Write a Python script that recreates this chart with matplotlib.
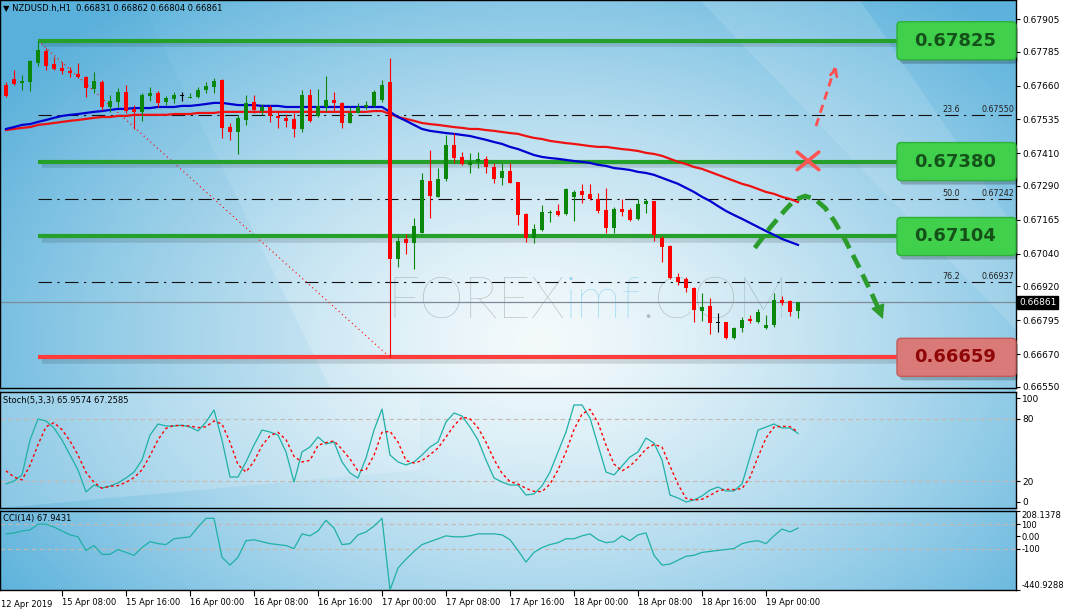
import numpy as np
import matplotlib
matplotlib.use("Agg")
import matplotlib.pyplot as plt
import matplotlib.transforms as mtransforms
from matplotlib.patches import FancyBboxPatch

W, H = 1066, 612

# ---- DATA (NZDUSD H1) ----
# bar slot index, 0 = 17 Apr 00:00
bar_pos = list(range(-47, 53))

opens = [0.67662, 0.67684, 0.67669, 0.67673, 0.67743, 0.67787, 0.67739, 0.67725, 0.67714, 0.67703,
         0.67692, 0.67647, 0.67673, 0.67581, 0.67599, 0.67636, 0.67574, 0.67563, 0.67622, 0.67633,
         0.67599, 0.67611, 0.67622, 0.67614, 0.67618, 0.67644, 0.67655, 0.67680, 0.67507, 0.67489,
         0.67533, 0.67599, 0.67566, 0.67581, 0.67548, 0.67541, 0.67537, 0.67500, 0.67625, 0.67548,
         0.67581, 0.67607, 0.67596, 0.67522, 0.67559, 0.67581, 0.67585, 0.67607,
         0.67673, 0.67021, 0.67095, 0.67080, 0.67117, 0.67309, 0.67250, 0.67316, 0.67441, 0.67397,
         0.67368, 0.67379, 0.67390, 0.67360, 0.67320, 0.67345, 0.67305, 0.67187, 0.67099, 0.67128,
         0.67192, 0.67198, 0.67187, 0.67250, 0.67272, 0.67261, 0.67242, 0.67202, 0.67136, 0.67205,
         0.67202, 0.67169, 0.67224, 0.67235, 0.67099, 0.67069, 0.66955, 0.66948, 0.66915, 0.66830,
         0.66848, 0.66786, 0.66789, 0.66731, 0.66767, 0.66800, 0.66789, 0.66767, 0.66778, 0.66870,
         0.66867, 0.66831]
highs = [0.67673, 0.67717, 0.67699, 0.67754, 0.67825, 0.67798, 0.67765, 0.67747, 0.67728, 0.67743,
         0.67695, 0.67710, 0.67680, 0.67625, 0.67651, 0.67662, 0.67588, 0.67633, 0.67655, 0.67640,
         0.67622, 0.67636, 0.67636, 0.67633, 0.67655, 0.67673, 0.67688, 0.67684, 0.67522, 0.67552,
         0.67625, 0.67625, 0.67592, 0.67588, 0.67563, 0.67555, 0.67559, 0.67644, 0.67647, 0.67647,
         0.67695, 0.67636, 0.67599, 0.67581, 0.67596, 0.67603, 0.67644, 0.67680,
         0.67761, 0.67106, 0.67113, 0.67172, 0.67338, 0.67423, 0.67356, 0.67478, 0.67485, 0.67415,
         0.67412, 0.67415, 0.67401, 0.67375, 0.67375, 0.67375, 0.67305, 0.67191, 0.67150, 0.67220,
         0.67202, 0.67224, 0.67283, 0.67275, 0.67298, 0.67298, 0.67264, 0.67283, 0.67213, 0.67242,
         0.67209, 0.67242, 0.67242, 0.67235, 0.67106, 0.67073, 0.66970, 0.66955, 0.66918, 0.66896,
         0.66878, 0.66823, 0.66789, 0.66771, 0.66808, 0.66815, 0.66837, 0.66815, 0.66896, 0.66885,
         0.66870, 0.66862]
lows = [0.67618, 0.67662, 0.67644, 0.67640, 0.67732, 0.67717, 0.67717, 0.67703, 0.67692, 0.67688,
        0.67618, 0.67633, 0.67570, 0.67563, 0.67581, 0.67559, 0.67500, 0.67530, 0.67603, 0.67581,
        0.67588, 0.67596, 0.67603, 0.67614, 0.67614, 0.67633, 0.67633, 0.67467, 0.67460, 0.67408,
        0.67515, 0.67559, 0.67552, 0.67526, 0.67504, 0.67507, 0.67471, 0.67489, 0.67526, 0.67544,
        0.67563, 0.67563, 0.67504, 0.67522, 0.67559, 0.67574, 0.67581, 0.67599,
        0.66659, 0.66992, 0.67040, 0.66985, 0.67117, 0.67172, 0.67250, 0.67309, 0.67375, 0.67368,
        0.67338, 0.67356, 0.67338, 0.67301, 0.67294, 0.67301, 0.67147, 0.67084, 0.67080, 0.67124,
        0.67158, 0.67180, 0.67183, 0.67161, 0.67228, 0.67239, 0.67190, 0.67117, 0.67117, 0.67180,
        0.67161, 0.67165, 0.67190, 0.67088, 0.67010, 0.66948, 0.66926, 0.66900, 0.66789, 0.66793,
        0.66745, 0.66753, 0.66727, 0.66727, 0.66753, 0.66786, 0.66786, 0.66764, 0.66771, 0.66852,
        0.66811, 0.66804]
closes = [0.67622, 0.67666, 0.67677, 0.67750, 0.67791, 0.67732, 0.67721, 0.67714, 0.67706, 0.67692,
          0.67651, 0.67677, 0.67581, 0.67603, 0.67636, 0.67566, 0.67563, 0.67625, 0.67633, 0.67596,
          0.67614, 0.67625, 0.67622, 0.67618, 0.67644, 0.67658, 0.67677, 0.67504, 0.67489, 0.67541,
          0.67596, 0.67570, 0.67581, 0.67548, 0.67541, 0.67530, 0.67500, 0.67625, 0.67530, 0.67585,
          0.67607, 0.67596, 0.67522, 0.67559, 0.67581, 0.67588, 0.67636, 0.67662,
          0.67021, 0.67088, 0.67080, 0.67143, 0.67312, 0.67253, 0.67316, 0.67441, 0.67393, 0.67371,
          0.67379, 0.67390, 0.67360, 0.67316, 0.67345, 0.67301, 0.67183, 0.67099, 0.67132, 0.67194,
          0.67194, 0.67183, 0.67279, 0.67268, 0.67257, 0.67242, 0.67198, 0.67136, 0.67205, 0.67194,
          0.67165, 0.67224, 0.67235, 0.67110, 0.67066, 0.66951, 0.66937, 0.66915, 0.66834, 0.66845,
          0.66786, 0.66786, 0.66731, 0.66767, 0.66797, 0.66793, 0.66826, 0.66778, 0.66870, 0.66859,
          0.66826, 0.66861]

ma_fast = [0.67500, 0.67507, 0.67515, 0.67518, 0.67526, 0.67533, 0.67541, 0.67548, 0.67552, 0.67555,
           0.67559, 0.67563, 0.67566, 0.67570, 0.67574, 0.67574, 0.67577, 0.67577, 0.67577, 0.67581,
           0.67581, 0.67581, 0.67585, 0.67585, 0.67588, 0.67592, 0.67596, 0.67596, 0.67592, 0.67588,
           0.67588, 0.67588, 0.67585, 0.67585, 0.67585, 0.67581, 0.67581, 0.67581, 0.67581, 0.67581,
           0.67581, 0.67581, 0.67581, 0.67581, 0.67581, 0.67581, 0.67581, 0.67581,
           0.67563, 0.67544, 0.67530, 0.67515, 0.67500, 0.67493, 0.67489, 0.67485, 0.67482, 0.67478,
           0.67474, 0.67467, 0.67460, 0.67452, 0.67445, 0.67434, 0.67426, 0.67415, 0.67404, 0.67397,
           0.67393, 0.67390, 0.67386, 0.67382, 0.67379, 0.67375, 0.67368, 0.67364, 0.67356, 0.67353,
           0.67349, 0.67342, 0.67338, 0.67331, 0.67320, 0.67309, 0.67298, 0.67283, 0.67268, 0.67250,
           0.67235, 0.67216, 0.67198, 0.67183, 0.67169, 0.67154, 0.67139, 0.67124, 0.67110, 0.67095,
           0.67084, 0.67073]
ma_slow = [0.67496, 0.67500, 0.67504, 0.67507, 0.67515, 0.67518, 0.67522, 0.67526, 0.67530, 0.67533,
           0.67537, 0.67541, 0.67544, 0.67544, 0.67548, 0.67548, 0.67552, 0.67552, 0.67552, 0.67552,
           0.67552, 0.67555, 0.67555, 0.67555, 0.67559, 0.67559, 0.67559, 0.67563, 0.67563, 0.67563,
           0.67563, 0.67563, 0.67563, 0.67563, 0.67563, 0.67563, 0.67563, 0.67563, 0.67563, 0.67563,
           0.67563, 0.67563, 0.67563, 0.67563, 0.67563, 0.67563, 0.67566, 0.67566,
           0.67555, 0.67544, 0.67537, 0.67530, 0.67522, 0.67518, 0.67515, 0.67511, 0.67507, 0.67504,
           0.67500, 0.67500, 0.67496, 0.67493, 0.67489, 0.67485, 0.67482, 0.67474, 0.67467, 0.67463,
           0.67456, 0.67452, 0.67448, 0.67445, 0.67441, 0.67437, 0.67434, 0.67434, 0.67430, 0.67426,
           0.67423, 0.67419, 0.67412, 0.67408, 0.67401, 0.67390, 0.67379, 0.67371, 0.67360, 0.67353,
           0.67342, 0.67331, 0.67320, 0.67309, 0.67298, 0.67290, 0.67279, 0.67268, 0.67261, 0.67250,
           0.67242, 0.67231]

stoch_main = [17.3, 20.2, 26.0, 59.6, 79.8, 77.9, 71.2, 59.6, 45.2, 30.8,
              9.6, 16.3, 13.5, 15.4, 18.3, 23.1, 28.8, 40.4, 64.4, 75.0,
              73.1, 73.1, 74.0, 72.1, 68.3, 76.9, 88.5, 59.6, 24.0, 24.0,
              38.5, 54.8, 69.2, 67.3, 64.4, 48.1, 19.2, 48.1, 52.9, 62.5,
              55.8, 57.7, 38.5, 27.9, 23.1, 42.3, 69.2, 89.4,
              45.2, 38.5, 35.6, 38.5, 45.2, 52.9, 57.7, 76.9, 85.6, 82.7,
              72.1, 59.6, 40.4, 23.1, 19.2, 16.3, 16.3, 6.7, 7.7, 15.4,
              28.8, 48.1, 67.3, 93.3, 93.3, 80.8, 54.8, 28.8, 26.0, 34.6,
              43.3, 48.1, 61.5, 56.7, 40.4, 6.7, 3.8, 0.0, 1.9, 5.8,
              11.5, 14.4, 10.6, 10.6, 17.3, 43.3, 69.2, 72.1, 75.0, 71.2,
              71.2, 65.96]
stoch_signal = [30.0, 24.0, 21.2, 35.3, 55.1, 72.4, 76.3, 69.6, 58.7, 45.2,
                28.5, 18.9, 13.1, 15.1, 15.7, 18.9, 23.4, 30.8, 44.5, 59.9,
                70.8, 73.7, 73.4, 73.1, 71.5, 72.4, 77.9, 75.0, 57.4, 35.9,
                28.8, 39.1, 54.2, 63.8, 67.0, 59.9, 43.9, 38.5, 40.1, 54.5,
                57.1, 58.7, 50.7, 41.4, 29.8, 31.1, 44.9, 67.0,
                67.9, 57.7, 39.8, 37.5, 39.8, 45.5, 51.9, 62.5, 73.4, 81.7,
                80.1, 71.5, 57.4, 41.0, 27.6, 19.5, 17.3, 13.1, 10.2, 9.9,
                17.3, 30.8, 48.1, 69.6, 84.6, 89.1, 76.3, 54.8, 36.5, 29.8,
                34.6, 42.0, 51.0, 55.4, 52.9, 34.6, 17.0, 3.5, 1.9, 2.6,
                6.4, 10.6, 12.2, 11.9, 12.8, 23.7, 43.3, 61.5, 72.1, 72.8,
                72.5, 67.26]

cci = [20, 28, 44, 52, 100, 100, 76, 44, 12, -4,
       -116, -76, -148, -148, -108, -132, -156, -92, -44, -60,
       -68, -20, -12, -4, 76, 148, 148, -172, -236, -172,
       -36, -28, -44, -60, -68, -76, -100, 20, 4, 44,
       132, 68, -68, -60, 12, 36, 84, 148,
       -440.9, -260, -188, -124, -68, -44, -20, 4, -4, -4,
       4, 20, 20, 20, 12, -28, -116, -212, -132, -92,
       -68, -52, -20, -20, 4, 20, -28, -52, -44, 4,
       -36, 12, 28, -156, -236, -228, -196, -164, -156, -132,
       -124, -116, -108, -100, -60, -44, -36, -60, 4, 60,
       36, 67.94]

date_ticks = [-40, -32, -24, -16, -8, 0, 8, 16, 24, 32, 40, 48]
date_labels = ["15 Apr 08:00", "15 Apr 16:00", "16 Apr 00:00", "16 Apr 08:00",
               "16 Apr 16:00", "17 Apr 00:00", "17 Apr 08:00", "17 Apr 16:00",
               "18 Apr 00:00", "18 Apr 08:00", "18 Apr 16:00", "19 Apr 00:00"]
price_ticks = [0.67905, 0.67785, 0.67660, 0.67535, 0.67410, 0.67290,
               0.67165, 0.67040, 0.66920, 0.66795, 0.66670, 0.66550]
stoch_ticks = [0, 20, 80, 100]
cci_ticks = [208.1378, 100, 0, -100, -440.9288]
cci_tick_labels = ["208.1378", "100", "0.00", "-100", "-440.9288"]

fib_high, fib_low = 0.67825, 0.66659
resistance_levels = [0.67825, 0.67380, 0.67104]
support_level = 0.66659
fib_marks = [("23.6", 0.67550), ("50.0", 0.67242), ("76.2", 0.66937)]
last_price = 0.66861
header = "NZDUSD.h,H1  0.66831 0.66862 0.66804 0.66861"

# ---- FIGURE ----
fig = plt.figure(figsize=(W / 100, H / 100), dpi=100, facecolor="white")


def rect(x0, y0, x1, y1):
    # pixel box measured from the top-left corner -> figure fraction
    return [x0 / W, 1 - y1 / H, (x1 - x0) / W, (y1 - y0) / H]


# background gradient behind all three panes
bg = fig.add_axes(rect(0, 0, 1016, 590), zorder=0)
gy, gx = np.mgrid[0:590, 0:1016]
r = np.sqrt(((gx - 540) / 660.0) ** 2 + ((gy - 340) / 440.0) ** 2)
t = np.clip(r, 0, 1) ** 1.3
light = np.array([244, 250, 252]) / 255.0
dark = np.array([92, 178, 220]) / 255.0
img = light * (1 - t)[..., None] + dark * t[..., None]
bg.imshow(img, extent=(0, 1016, 590, 0), aspect="auto")
bg.fill([700, 860, 1016, 1016], [0, 0, 230, 330], color="white", alpha=0.12, lw=0)
bg.fill([0, 140, 330, 0], [0, 0, 388, 388], color="#3f9fd0", alpha=0.08, lw=0)
bg.fill([0, 420, 420, 0], [392, 392, 470, 508], color="white", alpha=0.18, lw=0)
bg.set_xlim(0, 1016)
bg.set_ylim(590, 0)
bg.axis("off")

ax = fig.add_axes(rect(0, 0, 1016, 388), zorder=2)
ax_st = fig.add_axes(rect(0, 392, 1016, 508), zorder=2)
ax_cci = fig.add_axes(rect(0, 511, 1016, 590), zorder=2)

xlim = (-47.75, 79.25)
for a in (ax, ax_st, ax_cci):
    a.set_facecolor("none")
    a.set_xlim(*xlim)
    for s in a.spines.values():
        s.set_color("black")
        s.set_linewidth(1.0)
    a.yaxis.tick_right()
    a.tick_params(axis="y", direction="out", length=3, pad=1.5,
                  labelsize=6.5, colors="black")
    a.tick_params(axis="x", bottom=False, labelbottom=False)

ax.set_ylim(0.66546, 0.67975)
ax_st.set_ylim(-5.8, 105.8)
ax_cci.set_ylim(-440.9288, 208.1378)

ax.set_yticks(price_ticks)
ax.set_yticklabels([f"{p:.5f}" for p in price_ticks])
ax_st.set_yticks(stoch_ticks)
ax_st.set_yticklabels([str(v) for v in stoch_ticks])
ax_cci.set_yticks(cci_ticks)
ax_cci.set_yticklabels(cci_tick_labels)
ax_cci.tick_params(axis="y", labelsize=6, pad=1)
cl = ax_cci.get_yticklabels()
cl[0].set_va("top")
cl[-1].set_va("bottom")

ax_cci.set_xticks(date_ticks)
ax_cci.set_xticklabels(date_labels)
ax_cci.tick_params(axis="x", bottom=True, labelbottom=True, direction="out",
                   length=4, pad=2, labelsize=6)
for lab in ax_cci.get_xticklabels():
    lab.set_ha("left")
ax_cci.text(0.001, -0.13, "12 Apr 2019", transform=ax_cci.transAxes,
            fontsize=6, ha="left", va="top")

# ---- PRICE PANE ----
blend = mtransforms.blended_transform_factory(ax.transAxes, ax.transData)

# fibonacci dash-dot levels
for lv in resistance_levels + [support_level] + [p for _, p in fib_marks]:
    ax.hlines(lv, -43, xlim[1], color="#111111", lw=0.8,
              linestyle=(0, (12, 5, 2, 5)), zorder=2)
for name, p in fib_marks:
    ax.text(0.928, p + 0.00004, name, transform=blend, fontsize=5.8,
            ha="left", va="bottom", color="#222222")
    ax.text(0.998, p + 0.00004, f"{p:.5f}", transform=blend, fontsize=5.8,
            ha="right", va="bottom", color="#222222")

# fib base line
ax.plot([-43, 1], [fib_high, fib_low], color="red", lw=0.8,
        linestyle=(0, (1, 3)), zorder=3)

# support / resistance lines with soft shadow
for lv in resistance_levels:
    ax.hlines(lv - 0.00012, -42.5, 66, color="black", alpha=0.12, lw=4, zorder=2)
    ax.hlines(lv, -43, 66, color="#24a02b", lw=3.0, zorder=3)
ax.hlines(support_level - 0.00012, -42.5, 66, color="black", alpha=0.12, lw=4, zorder=2)
ax.hlines(support_level, -43, 66, color="#ff3b3b", lw=3.0, zorder=3)

# current price line
ax.axhline(last_price, color="#7d8b99", lw=0.9, zorder=2)

# moving averages
ax.plot(bar_pos, ma_slow, color="#ee1111", lw=1.6, zorder=6)
ax.plot(bar_pos, ma_fast, color="#0000d0", lw=1.6, zorder=6)

# candles
o = np.array(opens)
c = np.array(closes)
cols = np.where(c > o, "#0b870b", np.where(c < o, "#ff0000", "#000000"))
ax.vlines(bar_pos, lows, highs, colors=cols, lw=0.8, zorder=7)
body_low = np.minimum(o, c)
body_h = np.maximum(np.abs(c - o), 0.00004)
ax.bar(bar_pos, body_h, 0.62, bottom=body_low, color=cols, lw=0, zorder=8)

# scenario drawings
ax.plot([54.25, 56.6], [0.67511, 0.67725], color="#ff5050", lw=2.0,
        linestyle=(0, (3, 2)), zorder=9)
ax.annotate("", xy=(56.9, 0.67740), xytext=(56.5, 0.67700),
            arrowprops=dict(arrowstyle="->", color="#ff5050", lw=2.0,
                            mutation_scale=12), zorder=9)
ax.plot([51.9, 54.6], [0.67415, 0.67350], color="#ff5555", lw=2.6,
        solid_capstyle="round", zorder=9)
ax.plot([51.9, 54.6], [0.67350, 0.67415], color="#ff5555", lw=2.6,
        solid_capstyle="round", zorder=9)

curve_x = [46.6, 48.5, 50.4, 51.6, 52.9, 54.1, 55.4, 56.6, 57.9, 59.5, 61.0, 62.2]
curve_y = [0.67062, 0.67136, 0.67202, 0.67239, 0.67253, 0.67242, 0.67209,
           0.67158, 0.67091, 0.66999, 0.66907, 0.66830]
ax.plot(curve_x, curve_y, color="#2c9c2c", lw=3.4, linestyle=(0, (3, 1.6)),
        zorder=9)
ax.annotate("", xy=(62.75, 0.66790), xytext=(62.1, 0.66838),
            arrowprops=dict(arrowstyle="-|>", color="#2c9c2c", lw=1,
                            mutation_scale=22), zorder=9)

# current price label on the axis
ax.text(1.003, last_price, f"{last_price:.5f}", transform=blend, fontsize=6.5,
        color="white", ha="left", va="center", zorder=10, clip_on=False,
        bbox=dict(facecolor="black", edgecolor="black", pad=1.2))

# level boxes on the right edge (drawn in pixels)
fig.canvas.draw()
for lv in resistance_levels + [support_level]:
    yc = ax.transData.transform((0, lv))[1]
    green = lv != support_level
    face = "#41d04c" if green else "#d97a78"
    edge = "#2fb03a" if green else "#c45a58"
    tcol = "#15521a" if green else "#8e0606"
    sh = FancyBboxPatch((900, yc - 23), 118, 38, boxstyle="round,pad=0,rounding_size=4",
                        transform=mtransforms.IdentityTransform(),
                        facecolor="black", alpha=0.22, lw=0, zorder=5)
    fig.add_artist(sh)
    bx = FancyBboxPatch((897, yc - 19), 119, 38, boxstyle="round,pad=0,rounding_size=4",
                        transform=mtransforms.IdentityTransform(),
                        facecolor=face, edgecolor=edge, lw=1, zorder=6)
    fig.add_artist(bx)
    fig.text(955 / W, yc / H, f"{lv:.5f}", fontsize=13, fontweight="bold",
             color=tcol, ha="center", va="center", zorder=7)

# header texts
fig.text(3 / W, 1 - 8 / H, "\u25bc " + header, fontsize=6, va="center", ha="left")
fig.text(3 / W, 1 - 400 / H, "Stoch(5,3,3) 65.9574 67.2585", fontsize=6,
         va="center", ha="left")
fig.text(3 / W, 1 - 519 / H, "CCI(14) 67.9431", fontsize=6, va="center", ha="left")

# watermark
wm_font = dict(fontsize=41, family=["Lato", "DejaVu Sans"], fontweight="light",
               va="baseline", ha="left", zorder=1)
x_px = 387
for txt, col, al in [("FOREX", "#6f6f6f", 0.42), ("imf", "#86cff0", 0.85),
                     (".COM", "#6f6f6f", 0.42)]:
    tt = fig.text(x_px / W, 1 - 318 / H, txt, color=col, alpha=al, **wm_font)
    fig.canvas.draw()
    x_px = tt.get_window_extent().x1

# ---- STOCHASTIC ----
for lv in (80, 20):
    ax_st.axhline(lv, color="#c9b7ae", lw=0.8, linestyle=(0, (4, 3)), zorder=1)
ax_st.plot(bar_pos, stoch_main, color="#1fb0a6", lw=0.9, zorder=3)
ax_st.plot(bar_pos, stoch_signal, color="#ff0000", lw=1.0,
           linestyle=(0, (2, 2)), zorder=3)

# ---- CCI ----
for lv in (100, -100):
    ax_cci.axhline(lv, color="#c9b7ae", lw=0.8, linestyle=(0, (4, 3)), zorder=1)
ax_cci.plot(bar_pos, cci, color="#1fb0a6", lw=0.9, zorder=3)

fig.savefig("out.png", dpi=100, facecolor="white")
